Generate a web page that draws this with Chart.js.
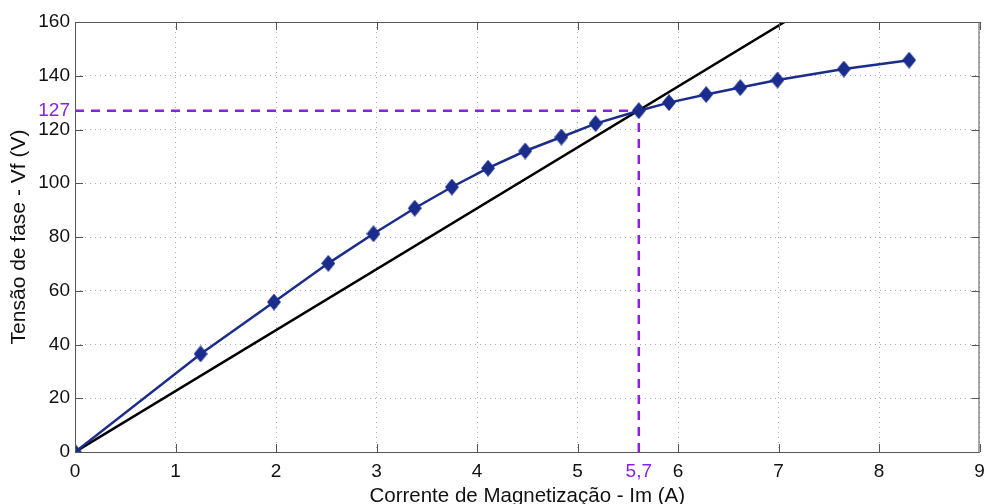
<!DOCTYPE html>
<html>
<head>
<meta charset="utf-8">
<script src="https://cdn.jsdelivr.net/npm/chart.js@4"></script>
<style>
  html, body { margin: 0; padding: 0; background: #fff; }
  #wrap { width: 989px; height: 504px; position: relative; }
</style>
</head>
<body>
<div id="wrap"><canvas id="c" width="989" height="504"></canvas></div>
<script>
// Measured magnetization curve
const currentA = [0, 1.25, 1.98, 2.52, 2.97, 3.38, 3.75, 4.11, 4.48, 4.84, 5.18, 5.61, 5.91, 6.28, 6.62, 6.99, 7.65, 8.30];
const voltageV = [0, 36.5, 55.8, 70.2, 81.2, 90.7, 98.6, 105.6, 112.0, 117.2, 122.2, 127.0, 130.0, 133.0, 135.6, 138.4, 142.5, 145.8];
// Air-gap (linear) line
const lineX = [0, 7.06];
const lineY = [0, 160];
// Operating point marks
const opX = 5.61, opXLabel = '5,7';
const opY = 127, opYLabel = '127';
const xTicks = [0, 1, 2, 3, 4, 5, 6, 7, 8, 9];
const yTicks = [0, 20, 40, 60, 80, 100, 120, 140, 160];

const BLUE = '#1b2d8c';
const PURPLE = '#8a1fe6';

// diamond marker
const dia = document.createElement('canvas');
dia.width = 14; dia.height = 17;
(function () {
  const g = dia.getContext('2d');
  g.fillStyle = BLUE;
  g.beginPath();
  g.moveTo(7, 0); g.lineTo(14, 8.5); g.lineTo(7, 17); g.lineTo(0, 8.5);
  g.closePath(); g.fill();
})();

const framePlugin = {
  id: 'frame',
  beforeDatasetsDraw(chart) {
    const { ctx, chartArea: a, scales } = chart;
    ctx.save();
    ctx.strokeStyle = PURPLE;
    ctx.lineWidth = 2.5;
    ctx.setLineDash([9, 7]);
    const px = scales.x.getPixelForValue(opX);
    const py = scales.y.getPixelForValue(opY);
    ctx.beginPath();
    ctx.moveTo(a.left, py); ctx.lineTo(px, py);
    ctx.moveTo(px, a.bottom); ctx.lineTo(px, py);
    ctx.stroke();
    ctx.restore();
  },
  afterDraw(chart) {
    const { ctx, chartArea: a, scales } = chart;
    ctx.save();
    ctx.strokeStyle = '#555';
    ctx.lineWidth = 1;
    ctx.strokeRect(a.left + 0.5, a.top + 0.5, a.right - a.left - 1, a.bottom - a.top);
    ctx.beginPath();
    xTicks.forEach(v => {
      const x = Math.round(scales.x.getPixelForValue(v)) + 0.5;
      ctx.moveTo(x, a.bottom); ctx.lineTo(x, a.bottom - 8);
      ctx.moveTo(x, a.top); ctx.lineTo(x, a.top + 8);
    });
    yTicks.forEach(v => {
      const y = Math.round(scales.y.getPixelForValue(v)) + 0.5;
      ctx.moveTo(a.left, y); ctx.lineTo(a.left + 8, y);
      ctx.moveTo(a.right, y); ctx.lineTo(a.right - 8, y);
    });
    ctx.stroke();
    ctx.restore();
  }
};

const isOpX = v => Math.abs(v - opX) < 1e-6;
const isOpY = v => Math.abs(v - opY) < 1e-6;

new Chart(document.getElementById('c'), {
  type: 'scatter',
  data: {
    datasets: [
      {
        data: lineX.map((x, i) => ({ x, y: lineY[i] })),
        showLine: true,
        borderColor: '#000',
        borderWidth: 2.5,
        pointRadius: 0,
        order: 2
      },
      {
        data: currentA.map((x, i) => ({ x, y: voltageV[i] })),
        showLine: true,
        borderColor: BLUE,
        borderWidth: 2.5,
        pointStyle: dia,
        pointRadius: 7,
        order: 1
      }
    ]
  },
  plugins: [framePlugin],
  options: {
    responsive: false,
    animation: false,
    devicePixelRatio: 1,
    layout: { padding: { top: 22, right: 7, left: 0, bottom: 0 } },
    plugins: { legend: { display: false }, tooltip: { enabled: false } },
    scales: {
      x: {
        type: 'linear', min: 0, max: 9,
        afterBuildTicks(s) {
          s.ticks = xTicks.map(v => ({ value: v })).concat([{ value: opX }]);
        },
        afterFit(s) { s.height = 52; },
        border: { display: false, dash: [1, 4] },
        grid: {
          drawTicks: false,
          color: c => (c.tick && isOpX(c.tick.value)) || c.index === 0 ? 'rgba(0,0,0,0)' : '#ababab',
          lineWidth: 1
        },
        ticks: {
          padding: 8,
          maxRotation: 0,
          autoSkip: false,
          font: { family: 'Liberation Sans', size: 19 },
          color: c => isOpX(c.tick.value) ? PURPLE : '#111',
          callback: v => isOpX(v) ? opXLabel : String(v)
        },
        title: {
          display: true,
          text: 'Corrente de Magnetização - Im (A)',
          font: { family: 'Liberation Sans', size: 20.5, lineHeight: 0.7 },
          color: '#111',
          padding: 0
        }
      },
      y: {
        type: 'linear', min: 0, max: 160,
        afterBuildTicks(s) {
          s.ticks = yTicks.map(v => ({ value: v })).concat([{ value: opY }]);
        },
        afterFit(s) { s.width = 75; },
        border: { display: false, dash: [1, 4] },
        grid: {
          drawTicks: false,
          color: c => (c.tick && isOpY(c.tick.value)) || c.index === 0 ? 'rgba(0,0,0,0)' : '#ababab',
          lineWidth: 1
        },
        ticks: {
          padding: 5,
          autoSkip: false,
          font: { family: 'Liberation Sans', size: 19 },
          color: c => isOpY(c.tick.value) ? PURPLE : '#111',
          callback: v => isOpY(v) ? opYLabel : String(v)
        },
        title: {
          display: true,
          text: 'Tensão de fase - Vf (V)',
          font: { family: 'Liberation Sans', size: 21, lineHeight: 1 },
          color: '#111',
          padding: { top: 9, bottom: 0 }
        }
      }
    }
  }
});
</script>
</body>
</html>
